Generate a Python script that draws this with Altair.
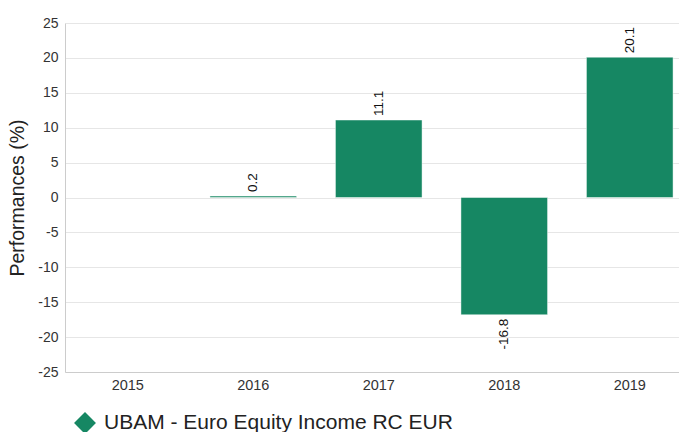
import altair as alt
import pandas as pd

years = ["2015", "2016", "2017", "2018", "2019"]
bar_years = ["2016", "2017", "2018", "2019"]
values = [0.2, 11.1, -16.8, 20.1]
labels = ["0.2", "11.1", "-16.8", "20.1"]
series_name = "UBAM - Euro Equity Income RC EUR"
y_ticks = [-25, -20, -15, -10, -5, 0, 5, 10, 15, 20, 25]

df = pd.DataFrame({
    "year": bar_years,
    "value": values,
    "label": labels,
    "series": [series_name] * len(bar_years),
})

FONT = "Liberation Sans"
GREEN = "#168763"

x_scale = alt.Scale(domain=years, range=[0, 627.5], paddingInner=0.31, paddingOuter=0.155)
y_scale = alt.Scale(domain=[-25, 25], nice=False)

x_axis = alt.Axis(
    title=None, labelAngle=0, ticks=False, domainColor="#cccccc",
    labelFontSize=14.5, labelColor="#333333", labelPadding=6, labelFont=FONT,
)
y_axis = alt.Axis(
    title="Performances (%)", values=y_ticks, ticks=False, labelOverlap=False,
    labelSeparation=0, labelExpr="toString(datum.value)",
    domainColor="#cccccc", gridColor="#e6e6e6", labelFontSize=14,
    labelColor="#333333", labelPadding=7, labelFont=FONT,
    titleFontSize=19.5, titleFontWeight="normal", titleColor="#222222",
    titleFont=FONT, titlePadding=10,
)

x_enc = alt.X("year:N", scale=x_scale, axis=x_axis)
y_enc = alt.Y("value:Q", scale=y_scale, axis=y_axis)

bars = alt.Chart(df).mark_bar(stroke="white", strokeOpacity=0.45, strokeWidth=1).encode(
    x=x_enc,
    y=y_enc,
    color=alt.Color(
        "series:N",
        scale=alt.Scale(range=[GREEN]),
        legend=alt.Legend(
            title=None, orient="none", legendX=9, legendY=389,
            symbolType="diamond", symbolSize=480, symbolStrokeWidth=0,
            labelFontSize=21, labelColor="#222222", labelFont=FONT,
            labelOffset=8, padding=0, labelLimit=600,
        ),
    ),
)

pos_text = alt.Chart(df).transform_filter("datum.value >= 0").mark_text(
    angle=270, align="left", baseline="middle", dx=4, fontSize=13.5,
    font=FONT, color="#111111",
).encode(x=x_enc, y=y_enc, text="label:N")

neg_text = alt.Chart(df).transform_filter("datum.value < 0").mark_text(
    angle=270, align="right", baseline="middle", dx=-4, fontSize=13.5,
    font=FONT, color="#111111",
).encode(x=x_enc, y=y_enc, text="label:N")

chart = alt.layer(bars, pos_text, neg_text).properties(
    width=614,
    height=349,
    autosize=alt.AutoSizeParams(type="none"),
    padding={"left": 57, "top": 15, "right": 0, "bottom": 62},
).configure_view(stroke=None).configure_axis(
    gridWidth=1
).configure_axisY(labelOverlap=False)

chart.save("out.html", embed_options={"renderer": "svg", "actions": False})
